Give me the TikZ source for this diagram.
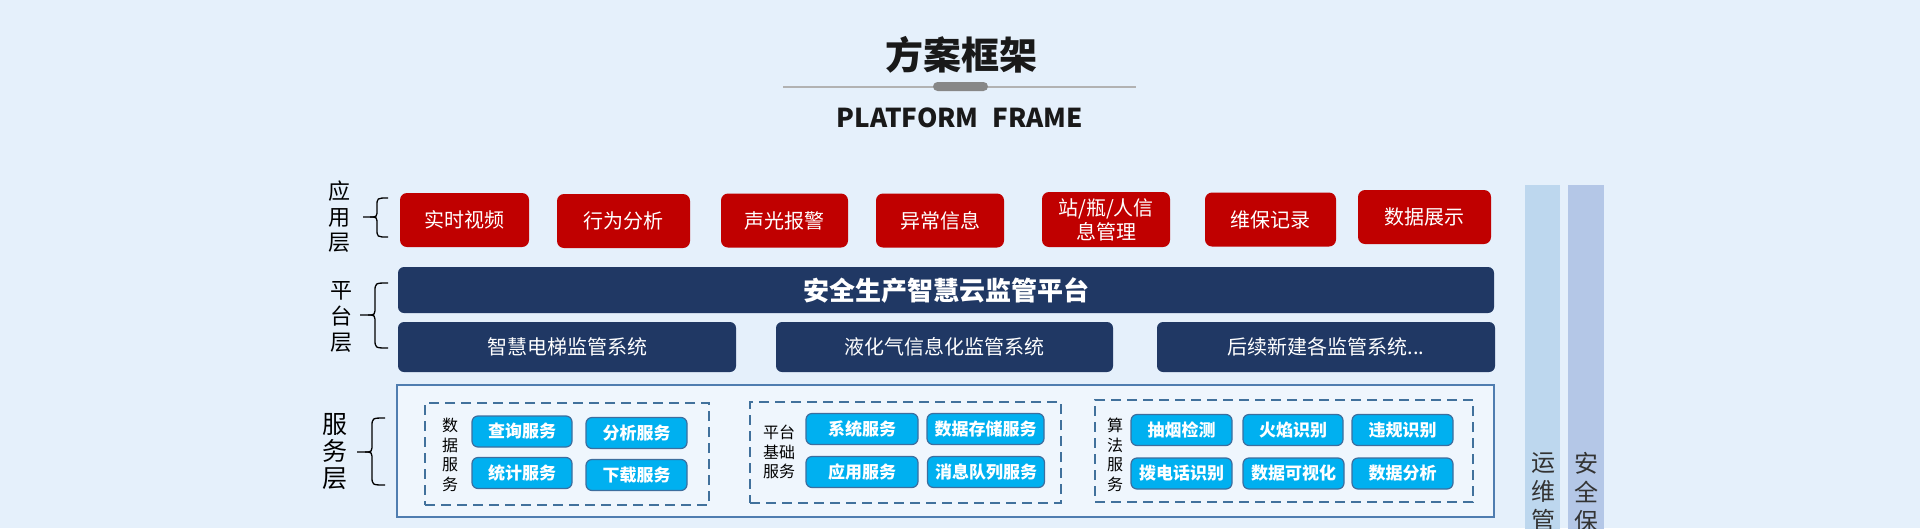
\documentclass[tikz,border=0pt]{standalone}
\usepackage{fontspec}
\setmainfont{Noto Sans CJK SC}
\definecolor{bg}{HTML}{E5F0FB}
\definecolor{appred}{HTML}{C00000}
\definecolor{navy}{HTML}{203864}
\definecolor{cyanbox}{HTML}{00B0F0}
\definecolor{cyanedge}{HTML}{3D6E9E}
\definecolor{dashblue}{HTML}{41719C}
\definecolor{outerblue}{HTML}{4F7DB0}
\definecolor{barA}{HTML}{BDD7EE}
\definecolor{barB}{HTML}{B4C7E7}
\begin{document}
\begin{tikzpicture}[x=1pt,y=-1pt,
  redbox/.style={fill=appred, rounded corners=7pt, text=white, font=\fontsize{20}{24}\selectfont, inner sep=0pt, align=center, minimum height=54pt},
  navybox/.style={fill=navy, rounded corners=6pt, text=white, inner sep=0pt},
  svcbox/.style={fill=cyanbox, draw=cyanedge, line width=1.2pt, rounded corners=6pt, text=white, font=\fontsize{17}{17}\selectfont\bfseries, minimum height=31pt, inner sep=0pt},
  grp/.style={draw=dashblue, line width=2pt, dash pattern=on 10pt off 6pt, inner sep=0pt},
  grplbl/.style={align=center, inner sep=0pt, font=\fontsize{16}{19.5}\selectfont, text=black},
  layerlbl/.style={align=center, inner sep=0pt, text=black},
  bracepath/.style={draw=black, line width=1.3pt},
  barlbl/.style={align=center, inner sep=0pt, text=black!80, font=\fontsize{24}{29}\selectfont, anchor=north}
]
\useasboundingbox (0,0) rectangle (1920,528);
\fill[bg] (0,0) rectangle (1920,528);

% Title
\node[inner sep=0pt, font=\fontsize{38}{38}\selectfont\bfseries, text=black!90] (title) at (961,55) {方案框架};
\draw[line width=1.5pt, black!30] (783,87) -- (1136,87);
\node[fill=black!47, rounded corners=4.5pt, minimum width=55pt, minimum height=9pt, inner sep=0pt] (pill) at (960.5,86.5) {};
\node[inner sep=0pt, font=\fontsize{26}{26}\selectfont\bfseries, text=black!90] (subtitle) at (960,118) {PLATFORM\hspace{0.55em}FRAME};

% Layer labels
\node[layerlbl, font=\fontsize{22}{25.5}\selectfont] (l1) at (339,217) {应\\用\\层};
\node[layerlbl, font=\fontsize{22}{26}\selectfont] (l2) at (341,317) {平\\台\\层};
\node[layerlbl, font=\fontsize{25}{27}\selectfont] (l3) at (335,452) {服\\务\\层};

% Braces
\draw[bracepath] (388,198) .. controls (377,198) .. (377,206) -- (377,209) .. controls (377,217) .. (370,217) -- (363,217);
\draw[bracepath] (388,237) .. controls (377,237) .. (377,229) -- (377,225) .. controls (377,217) .. (370,217);
\draw[bracepath] (388,283) .. controls (375,283) .. (375,292) -- (375,306) .. controls (375,315) .. (368,315) -- (360,315);
\draw[bracepath] (388,348) .. controls (375,348) .. (375,339) -- (375,324) .. controls (375,315) .. (368,315);
\draw[bracepath] (385,418) .. controls (372,418) .. (372,427) -- (372,443) .. controls (372,452) .. (365,452) -- (357,452);
\draw[bracepath] (385,485) .. controls (372,485) .. (372,476) -- (372,461) .. controls (372,452) .. (365,452);

% Application layer
\node[redbox, minimum width=129pt] (r1) at (464.5,220) {实时视频};
\node[redbox, minimum width=133pt] (r2) at (623.5,221) {行为分析};
\node[redbox, minimum width=127pt] (r3) at (784.5,220.5) {声光报警};
\node[redbox, minimum width=128pt] (r4) at (940,220.5) {异常信息};
\node[redbox, minimum width=128pt, minimum height=55pt] (r5) at (1106,219.5) {站/瓶/人信\\息管理};
\node[redbox, minimum width=131pt] (r6) at (1270.5,219.5) {维保记录};
\node[redbox, minimum width=133pt] (r7) at (1424.5,217) {数据展示};

% Platform layer
\node[navybox, minimum width=1096pt, minimum height=46pt, font=\fontsize{26}{26}\selectfont\bfseries] (p0) at (946,290) {安全生产智慧云监管平台};
\node[navybox, minimum width=338pt, minimum height=50pt, font=\fontsize{20}{20}\selectfont] (p1) at (567,347) {智慧电梯监管系统};
\node[navybox, minimum width=337pt, minimum height=50pt, font=\fontsize{20}{20}\selectfont] (p2) at (944.5,347) {液化气信息化监管系统};
\node[navybox, minimum width=338pt, minimum height=50pt, font=\fontsize{20}{20}\selectfont] (p3) at (1326,347) {后续新建各监管系统...};

% Service layer
\node[draw=outerblue, line width=2pt, fill=white!40!bg, minimum width=1097pt, minimum height=132pt, inner sep=0pt] (svc) at (945.5,451) {};

\node[grp, minimum width=284pt, minimum height=102pt] (g1) at (567,454) {};
\node[grplbl] (g1l) at (450,455) {数\\据\\服\\务};
\node[svcbox, minimum width=100pt] (s11) at (522,431.5) {查询服务};
\node[svcbox, minimum width=101pt] (s12) at (636.5,433) {分析服务};
\node[svcbox, minimum width=100pt] (s13) at (522,473) {统计服务};
\node[svcbox, minimum width=101pt] (s14) at (636.5,475) {下载服务};

\node[grp, minimum width=311pt, minimum height=101pt] (g2) at (905.5,452.5) {};
\node[grplbl] (g2l) at (779,452) {平台\\基础\\服务};
\node[svcbox, minimum width=112pt] (s21) at (862,429) {系统服务};
\node[svcbox, minimum width=117pt] (s22) at (985.5,429) {数据存储服务};
\node[svcbox, minimum width=112pt] (s23) at (862,472) {应用服务};
\node[svcbox, minimum width=117pt] (s24) at (986,472) {消息队列服务};

\node[grp, minimum width=378pt, minimum height=102pt] (g3) at (1284,451) {};
\node[grplbl] (g3l) at (1115,455) {算\\法\\服\\务};
\node[svcbox, minimum width=101pt] (s31) at (1181.5,430) {抽烟检测};
\node[svcbox, minimum width=100pt] (s32) at (1293,430) {火焰识别};
\node[svcbox, minimum width=101pt] (s33) at (1402.5,430) {违规识别};
\node[svcbox, minimum width=101pt] (s34) at (1181.5,473.5) {拨电话识别};
\node[svcbox, minimum width=101pt] (s35) at (1293.5,473.5) {数据可视化};
\node[svcbox, minimum width=101pt] (s36) at (1402.5,473.5) {数据分析};

% Side bars
\begin{scope}
\clip (0,0) rectangle (1920,528);
\node[fill=barA, minimum width=35pt, minimum height=350pt, inner sep=0pt, anchor=north] (bar1) at (1542.5,185) {};
\node[fill=barB, minimum width=36pt, minimum height=350pt, inner sep=0pt, anchor=north] (bar2) at (1586,185) {};
\node[barlbl] (b1t) at (1543,452) {运\\维\\管};
\node[barlbl] (b2t) at (1586,452) {安\\全\\保};
\end{scope}
\end{tikzpicture}
\end{document}
